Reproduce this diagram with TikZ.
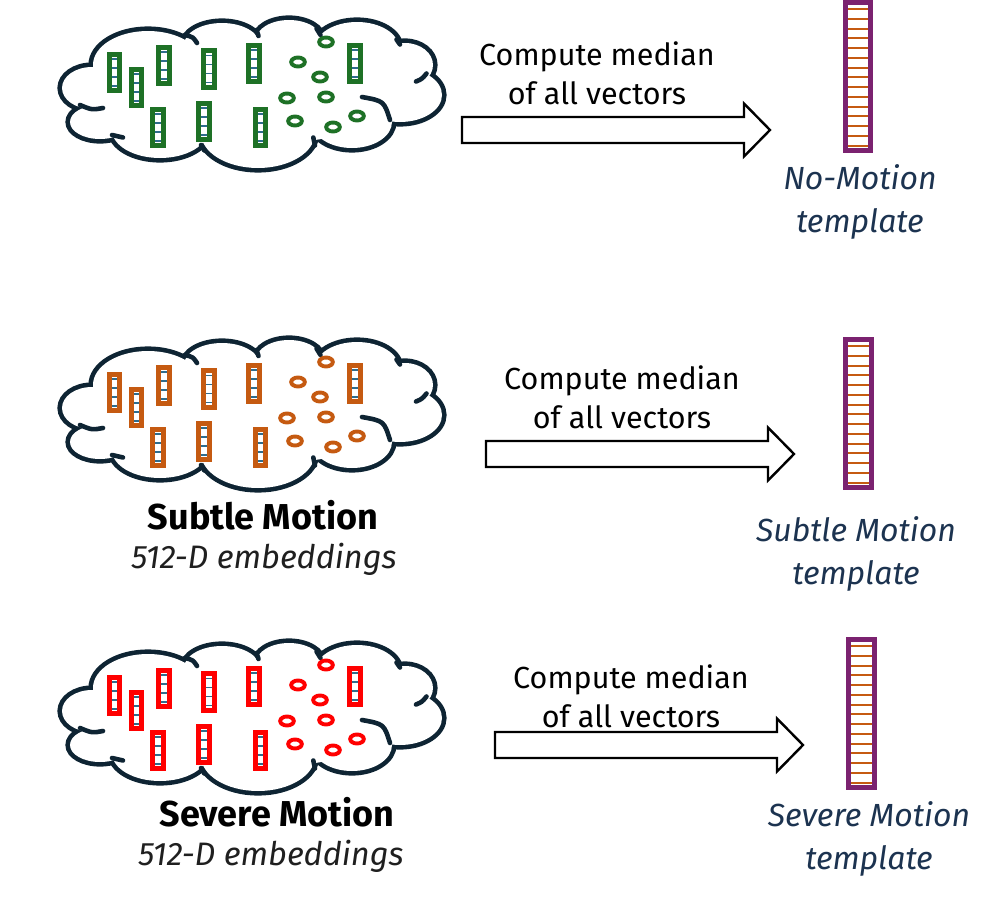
\documentclass[tikz,border=0pt]{standalone}
\usepackage{fontspec}
\setmainfont{Fira Sans}
\definecolor{cloudnavy}{HTML}{0E2433}
\definecolor{vgreen}{HTML}{1E7126}
\definecolor{vorange}{HTML}{C55A11}
\definecolor{vred}{HTML}{FF0000}
\definecolor{vstripe}{HTML}{2F6C8C}
\definecolor{tpurple}{HTML}{7B2270}
\definecolor{tnavy}{HTML}{1C3350}
\tikzset{
  cloudline/.style={cloudnavy, line width=4.6, line cap=round},
  blockarrow/.style={draw=black, line width=2.4, fill=white, line join=miter},
  txt/.style={align=center, font=\fontsize{30.5}{39}\selectfont, text=black, inner sep=0},
  tmpl/.style={align=center, font=\fontsize{32}{43}\selectfont\itshape, text=tnavy, inner sep=0},
  boldlab/.style={font=\fontsize{36}{40}\selectfont\bfseries, text=black, inner sep=0},
  itlab/.style={font=\fontsize{32.5}{36}\selectfont\itshape, text=black!88, inner sep=0},
}
\newcommand\vecbox[3]{%
  \draw[#3, line width=4.8, fill=white] (#1-5.25,#2-18.25) rectangle (#1+5.25,#2+18.25);
  \foreach \o in {-13.5,-4.5,4.5,13.5}{\draw[vstripe, line width=1.6] (#1-2.8,#2+\o) -- (#1+2.8,#2+\o);}
}
\newcommand\ringmark[3]{%
  \draw[#3, line width=3.9] (#1,#2) ellipse [x radius=6.8, y radius=4.5];
}
\newcommand\cloudall[1]{%
  \foreach \cx/\cy/\rx/\ry in {92/88/30/21, 100/122/30/17, 148/65/55/34, 222/45/38/22, 289/40/33/20, 357/48/42/26, 405/65/28/22, 400/95/42/27, 352/122/40/26, 258/133/57/35, 160/130/48/28}{%
    \draw[cloudnavy, line width=9.2] (\cx,\cy) ellipse [x radius=\rx, y radius=\ry];}
  \foreach \cx/\cy/\rx/\ry in {92/88/30/21, 100/122/30/17, 148/65/55/34, 222/45/38/22, 289/40/33/20, 357/48/42/26, 405/65/28/22, 400/95/42/27, 352/122/40/26, 258/133/57/35, 160/130/48/28}{%
    \fill[white] (\cx,\cy) ellipse [x radius=\rx, y radius=\ry];}
  \fill[white] (250,95) ellipse [x radius=150, y radius=50];
  % inner ticks of the cloud
  \draw[cloudline] (80,105) .. controls (92,110) .. (103,108);
  \draw[cloudline] (112,135) -- (123,137.5);
  \draw[cloudline] (185,35) .. controls (193,37) .. (197,43);
  \draw[cloudline] (256.5,30) -- (258.5,36);
  \draw[cloudline] (316.5,28.5) -- (320.5,35);
  \draw[cloudline] (396.5,39.5) -- (400,44.5);
  \draw[cloudline] (416,81.5) .. controls (422,79) .. (426.5,73.5);
  \draw[cloudline] (362,97) .. controls (384,101) .. (390,120);
  \draw[cloudline] (313.3,137.5) -- (315,145.5);
  \draw[cloudline] (201,145) -- (204.3,150.5);
  % embeddings
  \foreach \x/\y in {114.5/72.5, 136.5/87.5, 164/65.5, 209/69, 254/63.5, 355/63.5, 158/127.5, 204/121.5, 260.5/127.5}{\vecbox{\x}{\y}{#1}}
  \foreach \x/\y in {326/42, 298/62, 320/77, 287/98, 326/97, 295/121, 333/127, 357/116}{\ringmark{\x}{\y}{#1}}
}
\newcommand\template[2]{% x-centre, top (centre line)
  \draw[tpurple, line width=5, fill=white] (#1-12.75,#2) rectangle (#1+12.75,#2+147.5);
  \foreach \k in {0,...,14}{\draw[vorange, line width=2] (#1-10.25,#2+6.5+\k*9.75) -- (#1+10.25,#2+6.5+\k*9.75);}
}
\newcommand\bigarrow[3]{% left x, centre y, tip x
  \draw[blockarrow] (#1,#2-13) -- (#3-26,#2-13) -- (#3-26,#2-26.5) -- (#3,#2) -- (#3-26,#2+26.5) -- (#3-26,#2+13) -- (#1,#2+13) -- cycle;
}
\begin{document}
\begin{tikzpicture}[x=1pt,y=-1pt]
\useasboundingbox (0,0) rectangle (997,902);
% row 1
\begin{scope}\cloudall{vgreen}\end{scope}
\bigarrow{462}{130}{770}
\node[txt] (c1) at (597,73) {Compute median\\of all vectors};
\template{858}{2.5}
\node[tmpl] (l1) at (860,202) {No-Motion\\template};
% row 2
\begin{scope}[shift={(0,320)}]\cloudall{vorange}\end{scope}
\bigarrow{486}{454}{794}
\node[txt] (c2) at (622,397) {Compute median\\of all vectors};
\template{858.5}{339.5}
\node[tmpl] (l2) at (856,554) {Subtle Motion\\template};
\node[boldlab] (s2) at (263,515) {Subtle Motion};
\node[itlab] (e2) at (264,559) {512-D embeddings};
% row 3
\begin{scope}[shift={(0,623)}]\cloudall{vred}\end{scope}
\bigarrow{495}{745}{803}
\node[txt] (c3) at (631,696) {Compute median\\of all vectors};
\template{861.5}{639.5}
\node[tmpl] (l3) at (869,839) {Severe Motion\\template};
\node[boldlab] (s3) at (277,812) {Severe Motion};
\node[itlab] (e3) at (271,856) {512-D embeddings};
\end{tikzpicture}
\end{document}
